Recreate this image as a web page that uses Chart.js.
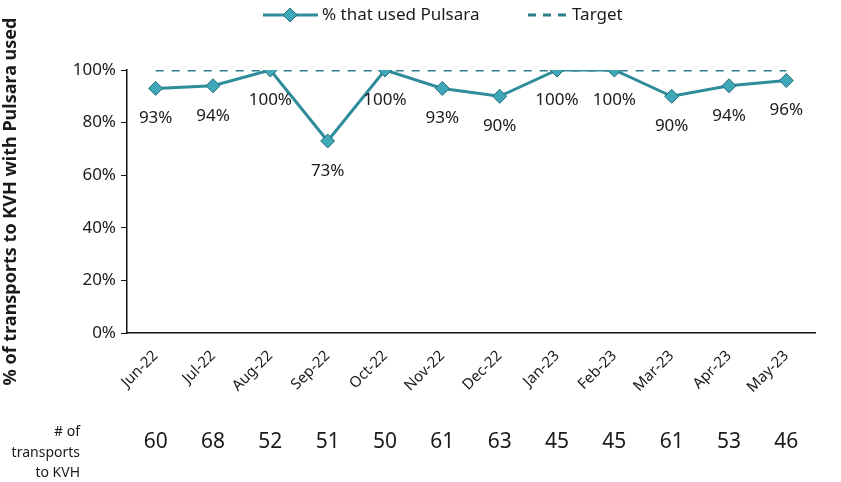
<!DOCTYPE html>
<html>
<head>
<meta charset="utf-8">
<script src="https://cdn.jsdelivr.net/npm/chart.js@4"></script>
<style>
  html, body { margin: 0; padding: 0; background: #fff; }
  #wrap { width: 841px; height: 482px; position: relative; }
</style>
</head>
<body>
<div id="wrap"><canvas id="chart"></canvas></div>
<script>
// values
const months = ['Jun-22', 'Jul-22', 'Aug-22', 'Sep-22', 'Oct-22', 'Nov-22', 'Dec-22', 'Jan-23', 'Feb-23', 'Mar-23', 'Apr-23', 'May-23'];
const pctUsed = [93, 94, 100, 73, 100, 93, 90, 100, 100, 90, 94, 96];
const targetPct = [100, 100, 100, 100, 100, 100, 100, 100, 100, 100, 100, 100];
const transports = [60, 68, 52, 51, 50, 61, 63, 45, 45, 61, 53, 46];
const yTicks = [0, 20, 40, 60, 80, 100];

const FONT = '"Noto Sans", "Open Sans", sans-serif';
const lineColor = '#2f8c9b';
const markerFill = '#3fa8b8';
const markerEdge = '#276f7b';
const targetColor = '#2a7f8a';
const textColor = '#1a1a1a';

// data labels under the points + the "# of transports" row + legend
const extras = {
    id: 'extras',
    afterDatasetsDraw(chart) {
        const ctx = chart.ctx;
        const meta = chart.getDatasetMeta(0);
        ctx.save();
        ctx.fillStyle = textColor;
        ctx.textAlign = 'center';
        ctx.textBaseline = 'middle';
        ctx.font = '17px ' + FONT;
        meta.data.forEach((pt, i) => {
            ctx.fillText(pctUsed[i] + '%', pt.x, pt.y + 30);
        });

        // transports row
        const xs = chart.scales.x;
        ctx.font = '21px ' + FONT;
        transports.forEach((n, i) => {
            ctx.fillText(String(n), xs.getPixelForValue(i), 442);
        });
        ctx.font = '14px ' + FONT;
        ctx.textAlign = 'right';
        ctx.fillText('# of', 80, 432);
        ctx.fillText('transports', 80, 453);
        ctx.fillText('to KVH', 80, 473);

        // legend
        ctx.textAlign = 'left';
        ctx.font = '17px ' + FONT;
        ctx.strokeStyle = lineColor;
        ctx.lineWidth = 3;
        ctx.beginPath();
        ctx.moveTo(263, 15);
        ctx.lineTo(318, 15);
        ctx.stroke();
        ctx.fillStyle = markerFill;
        ctx.strokeStyle = markerEdge;
        ctx.lineWidth = 1;
        ctx.beginPath();
        ctx.moveTo(290, 8);
        ctx.lineTo(297, 15);
        ctx.lineTo(290, 22);
        ctx.lineTo(283, 15);
        ctx.closePath();
        ctx.fill();
        ctx.stroke();
        ctx.fillStyle = textColor;
        ctx.fillText('% that used Pulsara', 322, 15);

        ctx.strokeStyle = targetColor;
        ctx.lineWidth = 3;
        ctx.setLineDash([8, 7]);
        ctx.beginPath();
        ctx.moveTo(528, 15);
        ctx.lineTo(570, 15);
        ctx.stroke();
        ctx.setLineDash([]);
        ctx.fillText('Target', 572, 15);
        ctx.restore();
    }
};

new Chart(document.getElementById('chart'), {
    type: 'line',
    data: {
        labels: months,
        datasets: [
            {
                label: '% that used Pulsara',
                data: pctUsed,
                borderColor: lineColor,
                borderWidth: 3,
                pointStyle: 'rectRot',
                pointRadius: 7,
                pointBackgroundColor: markerFill,
                pointBorderColor: markerEdge,
                pointBorderWidth: 1,
                tension: 0,
                order: 1
            },
            {
                label: 'Target',
                data: targetPct,
                borderColor: targetColor,
                borderWidth: 3,
                borderDash: [8, 8],
                pointRadius: 0,
                order: 2
            }
        ]
    },
    options: {
        responsive: true,
        maintainAspectRatio: false,
        animation: false,
        layout: { padding: { top: 70, right: 26, bottom: 0, left: 0 } },
        plugins: {
            legend: { display: false },
            tooltip: { enabled: false }
        },
        scales: {
            x: {
                offset: true,
                grid: { drawOnChartArea: false, drawTicks: false, offset: true },
                border: { display: true, color: '#111', width: 1.5 },
                ticks: {
                    color: textColor,
                    font: { family: FONT, size: 15 },
                    maxRotation: 45,
                    minRotation: 45,
                    padding: 14
                },
                afterFit(scale) { scale.height = 149; }
            },
            y: {
                min: 0,
                max: 100,
                afterBuildTicks(scale) {
                    scale.ticks = yTicks.map(v => ({ value: v }));
                },
                grid: { drawOnChartArea: false, drawTicks: true, tickLength: 6, color: '#111' },
                border: { display: true, color: '#111', width: 1.5 },
                ticks: {
                    color: textColor,
                    font: { family: FONT, size: 17 },
                    padding: 5,
                    callback: v => v + '%'
                },
                title: {
                    display: true,
                    text: '% of transports to KVH with Pulsara used',
                    color: textColor,
                    font: { family: FONT, size: 18, weight: 'bold' },
                    padding: 0
                },
                afterFit(scale) { scale.width = 127; }
            }
        }
    },
    plugins: [extras]
});
</script>
</body>
</html>
